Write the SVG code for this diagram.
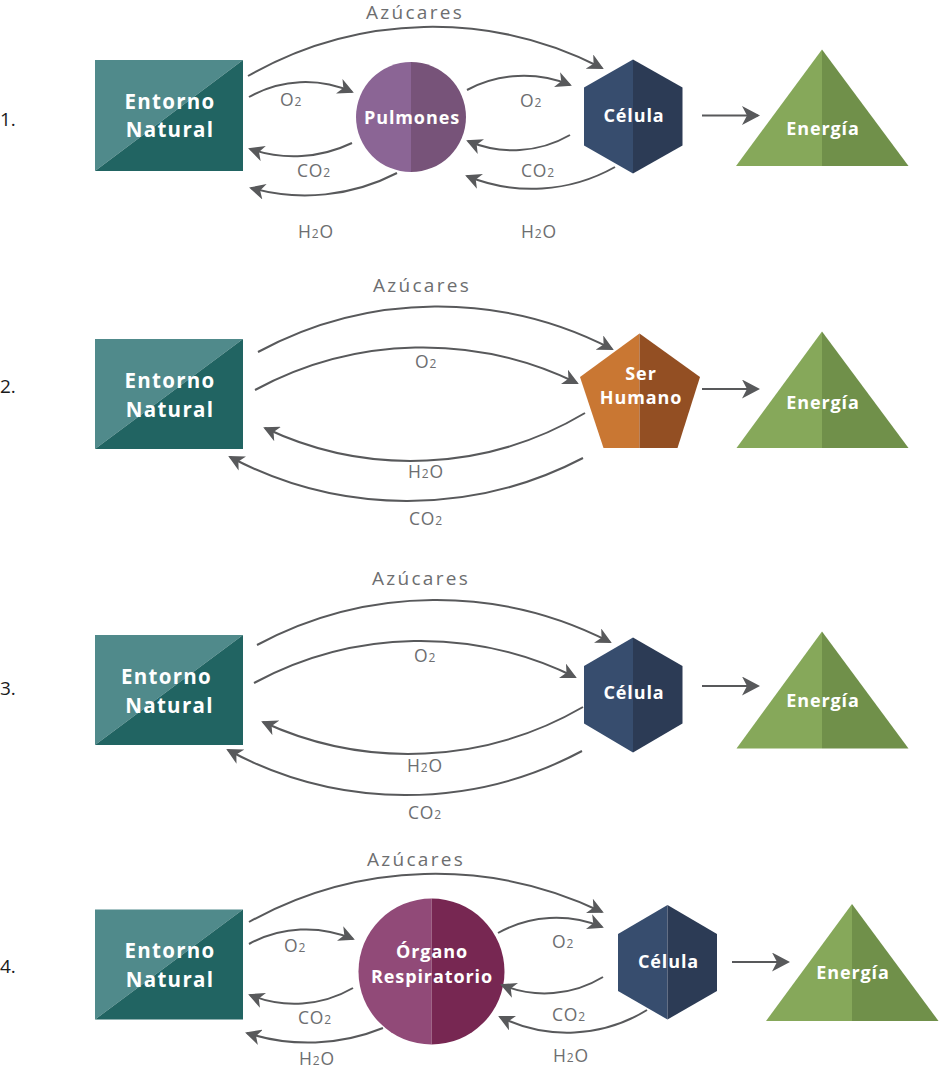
<svg xmlns="http://www.w3.org/2000/svg" width="939" height="1073" viewBox="0 0 939 1073">
  <defs>
    <!-- notched arrowheads: small for flow arcs, large for energy arrows -->
    <marker id="ah" viewBox="0 0 16 16" refX="14" refY="8" markerWidth="16" markerHeight="16" markerUnits="userSpaceOnUse" orient="auto">
      <path d="M0,0 L16,8 L0,16 L4.5,8 z" fill="#58595b"/>
    </marker>
    <marker id="ahl" viewBox="0 0 18 19" refX="16" refY="9.5" markerWidth="18" markerHeight="19" markerUnits="userSpaceOnUse" orient="auto">
      <path d="M0,0 L18,9.5 L0,19 L5,9.5 z" fill="#58595b"/>
    </marker>
  </defs>
  <style>
    .flow { fill: none; stroke: #58595b; stroke-width: 2; marker-end: url(#ah); }
    .big { fill: none; stroke: #58595b; stroke-width: 2.2; marker-end: url(#ahl); }
    .lbl { font-family: "Open Sans", "Liberation Sans", sans-serif; font-size: 17.5px; fill: #6d6e70; text-anchor: middle; letter-spacing: 0.8px; }
    .azu { font-family: "Open Sans", "Liberation Sans", sans-serif; font-size: 19px; fill: #6d6e70; text-anchor: middle; letter-spacing: 2.3px; }
    .sub { font-size: 12px; }
    .num { font-family: "Open Sans", "Liberation Sans", sans-serif; font-size: 19px; fill: #1a1a1a; }
    .nt { font-family: "Open Sans", "Liberation Sans", sans-serif; font-weight: 700; font-size: 20.5px; fill: #ffffff; text-anchor: middle; letter-spacing: 1.3px; }
    .ns { font-family: "Open Sans", "Liberation Sans", sans-serif; font-weight: 700; font-size: 18px; fill: #ffffff; text-anchor: middle; letter-spacing: 0.9px; }
    .envL { fill: #508a8b; }
    .envD { fill: #216462; }
    .pulL { fill: #8b6595; }
    .pulD { fill: #775379; }
    .celL { fill: #374d6e; }
    .celD { fill: #2c3b55; }
    .enL { fill: #86a85a; }
    .enD { fill: #70904a; }
    .serL { fill: #c97733; }
    .serD { fill: #934f23; }
    .orgL { fill: #914a78; }
    .orgD { fill: #772752; }
  </style>

  <!-- row numbers -->
  <g id="row-numbers">
    <text class="num" x="0" y="126">1.</text>
    <text class="num" x="0" y="393">2.</text>
    <text class="num" x="0" y="695">3.</text>
    <text class="num" x="0" y="973">4.</text>
  </g>

  <!-- ===== Row 1 ===== -->
  <g id="r1-entorno">
    <polygon class="envL" points="95,60 243,60 95,171"/>
    <polygon class="envD" points="243,60 243,171 95,171"/>
    <text class="nt" x="170" y="109">Entorno</text>
    <text class="nt" x="170" y="137">Natural</text>
  </g>
  <g id="r1-pulmones">
    <path class="pulL" d="M411,62 A55,55 0 0 0 411,172 z"/>
    <path class="pulD" d="M411,62 A55,55 0 0 1 411,172 z"/>
    <text class="ns" x="412" y="124">Pulmones</text>
  </g>
  <g id="r1-celula">
    <polygon class="celL" points="633,59.5 633,173.5 584,145.5 584,87.5"/>
    <polygon class="celD" points="633,59.5 682.5,87.5 682.5,145.5 633,173.5"/>
    <text class="ns" x="634" y="121.5">Célula</text>
  </g>
  <g id="r1-energia">
    <polygon class="enL" points="822,49.5 822,166 736,166"/>
    <polygon class="enD" points="822,49.5 908.5,166 822,166"/>
    <text class="ns" x="823" y="135">Energía</text>
  </g>

  <!-- ===== Row 2 ===== -->
  <g id="r2-entorno">
    <polygon class="envL" points="95,339 243,339 95,449"/>
    <polygon class="envD" points="243,339 243,449 95,449"/>
    <text class="nt" x="170" y="388">Entorno</text>
    <text class="nt" x="170" y="416.5">Natural</text>
  </g>
  <g id="r2-ser-humano">
    <polygon class="serL" points="639.5,333.5 639.5,448 603.5,448 580,377"/>
    <polygon class="serD" points="639.5,333.5 700,377 677.5,448 639.5,448"/>
    <text class="ns" x="641" y="380">Ser</text>
    <text class="ns" x="641" y="404">Humano</text>
  </g>
  <g id="r2-energia">
    <polygon class="enL" points="822,331.5 822,448 736.5,448"/>
    <polygon class="enD" points="822,331.5 908.5,448 822,448"/>
    <text class="ns" x="823" y="409">Energía</text>
  </g>

  <!-- ===== Row 3 ===== -->
  <g id="r3-entorno">
    <polygon class="envL" points="95,635 243,635 95,745"/>
    <polygon class="envD" points="243,635 243,745 95,745"/>
    <text class="nt" x="166.5" y="684">Entorno</text>
    <text class="nt" x="169.5" y="712.5">Natural</text>
  </g>
  <g id="r3-celula">
    <polygon class="celL" points="633,637.5 633,752.5 584,723.5 584,666"/>
    <polygon class="celD" points="633,637.5 682.5,666 682.5,723.5 633,752.5"/>
    <text class="ns" x="634" y="699">Célula</text>
  </g>
  <g id="r3-energia">
    <polygon class="enL" points="822,631.5 822,748.5 736.5,748.5"/>
    <polygon class="enD" points="822,631.5 908.5,748.5 822,748.5"/>
    <text class="ns" x="823" y="706.5">Energía</text>
  </g>

  <!-- ===== Row 4 ===== -->
  <g id="r4-entorno">
    <polygon class="envL" points="95,909.5 243,909.5 95,1019.5"/>
    <polygon class="envD" points="243,909.5 243,1019.5 95,1019.5"/>
    <text class="nt" x="170" y="958">Entorno</text>
    <text class="nt" x="170" y="986.5">Natural</text>
  </g>
  <g id="r4-organo">
    <path class="orgL" d="M431.5,898.5 A73,73 0 0 0 431.5,1044.5 z"/>
    <path class="orgD" d="M431.5,898.5 A73,73 0 0 1 431.5,1044.5 z"/>
    <text class="ns" x="432" y="958">Órgano</text>
    <text class="ns" x="432" y="983">Respiratorio</text>
  </g>
  <g id="r4-celula">
    <polygon class="celL" points="667.5,905 667.5,1019.5 618,991 618,934"/>
    <polygon class="celD" points="667.5,905 717,934 717,991 667.5,1019.5"/>
    <text class="ns" x="668.5" y="967.5">Célula</text>
  </g>
  <g id="r4-energia">
    <polygon class="enL" points="852,904 852,1021 766,1021"/>
    <polygon class="enD" points="852,904 938.5,1021 852,1021"/>
    <text class="ns" x="853" y="979">Energía</text>
  </g>

  <!-- connectors -->
  <g id="connectors">
    <!-- row 1 -->
    <path class="flow" d="M248,76 A370,370 0 0 1 602,68"/>
    <path class="flow" d="M249,97 A114,114 0 0 1 352,92"/>
    <path class="flow" d="M352,143 A135,135 0 0 1 250,149"/>
    <path class="flow" d="M397,173 A200,200 0 0 1 251,188"/>
    <path class="flow" d="M467,90 A121,121 0 0 1 570,85"/>
    <path class="flow" d="M570,135 A114,114 0 0 1 468,141"/>
    <path class="flow" d="M615,167 A170,170 0 0 1 467,176"/>
    <path class="big" d="M702,115.5 L758,115.5"/>
    <!-- row 2 -->
    <path class="flow" d="M258,352 A378,378 0 0 1 612,349"/>
    <path class="flow" d="M255,390 A352,352 0 0 1 577,383"/>
    <path class="flow" d="M585,413 A340,340 0 0 1 265,428"/>
    <path class="flow" d="M583,458 A380,380 0 0 1 230,457"/>
    <path class="big" d="M702,389 L758,389"/>
    <!-- row 3 -->
    <path class="flow" d="M257,645 A380,380 0 0 1 610,642"/>
    <path class="flow" d="M254,683 A350,350 0 0 1 575,677"/>
    <path class="flow" d="M583,707 A348,348 0 0 1 263,722"/>
    <path class="flow" d="M582,751 A374,374 0 0 1 228,750"/>
    <path class="big" d="M702,686 L758,686"/>
    <!-- row 4 -->
    <path class="flow" d="M249,922 A384,384 0 0 1 602,912"/>
    <path class="flow" d="M249,944 A119,119 0 0 1 353,939"/>
    <path class="flow" d="M353,988 A117,117 0 0 1 250,995"/>
    <path class="flow" d="M383,1028 A199,199 0 0 1 247,1033"/>
    <path class="flow" d="M498,933 A119,119 0 0 1 602,927"/>
    <path class="flow" d="M603,977 A112,112 0 0 1 502,985"/>
    <path class="flow" d="M647,1010 A152,152 0 0 1 500,1017"/>
    <path class="big" d="M732,962 L788,962"/>
  </g>

  <!-- connector labels -->
  <g id="labels">
    <text class="azu" x="415" y="18.5">Azúcares</text>
    <text class="lbl" x="291" y="106">O<tspan class="sub">2</tspan></text>
    <text class="lbl" x="314" y="177">CO<tspan class="sub">2</tspan></text>
    <text class="lbl" x="316" y="238">H<tspan class="sub">2</tspan>O</text>
    <text class="lbl" x="531" y="106.5">O<tspan class="sub">2</tspan></text>
    <text class="lbl" x="538" y="177">CO<tspan class="sub">2</tspan></text>
    <text class="lbl" x="539" y="238">H<tspan class="sub">2</tspan>O</text>

    <text class="azu" x="422" y="291.5">Azúcares</text>
    <text class="lbl" x="426" y="368">O<tspan class="sub">2</tspan></text>
    <text class="lbl" x="426" y="478">H<tspan class="sub">2</tspan>O</text>
    <text class="lbl" x="426" y="525">CO<tspan class="sub">2</tspan></text>

    <text class="azu" x="421" y="585">Azúcares</text>
    <text class="lbl" x="425" y="661.5">O<tspan class="sub">2</tspan></text>
    <text class="lbl" x="425" y="771.5">H<tspan class="sub">2</tspan>O</text>
    <text class="lbl" x="425" y="819">CO<tspan class="sub">2</tspan></text>

    <text class="azu" x="416" y="866">Azúcares</text>
    <text class="lbl" x="295" y="951.5">O<tspan class="sub">2</tspan></text>
    <text class="lbl" x="315" y="1024">CO<tspan class="sub">2</tspan></text>
    <text class="lbl" x="317" y="1065">H<tspan class="sub">2</tspan>O</text>
    <text class="lbl" x="563" y="948">O<tspan class="sub">2</tspan></text>
    <text class="lbl" x="569" y="1021">CO<tspan class="sub">2</tspan></text>
    <text class="lbl" x="571" y="1061.5">H<tspan class="sub">2</tspan>O</text>
  </g>
</svg>
